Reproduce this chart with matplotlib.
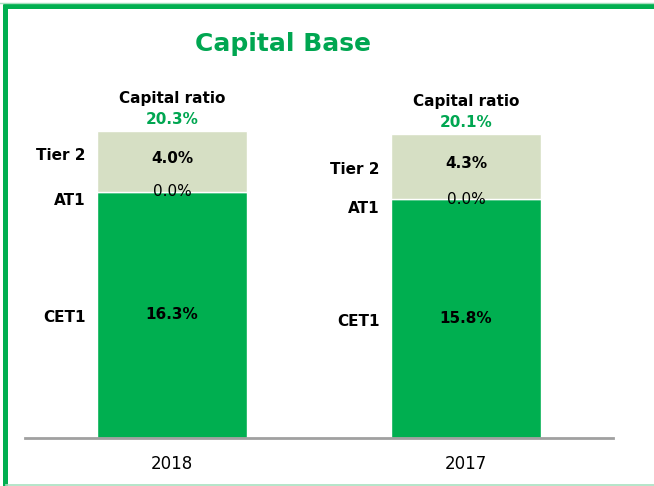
import matplotlib.pyplot as plt
from matplotlib.lines import Line2D

years = ["2018", "2017"]
cet1 = [16.3, 15.8]
at1 = [0.0, 0.0]
tier2 = [4.0, 4.3]
capital_ratio = ["20.3%", "20.1%"]

green = "#00AF50"
light = "#D6DFC4"
title_green = "#00A651"

W, H = 654, 486
fig = plt.figure(figsize=(W / 100, H / 100), dpi=100)

# frame lines around the slide
fig.add_artist(Line2D([3 / W, 1], [1 - 6.5 / H, 1 - 6.5 / H], color=green, lw=3.6, solid_capstyle="butt"))
fig.add_artist(Line2D([5.5 / W, 5.5 / W], [0, 1 - 4 / H], color=green, lw=3.6, solid_capstyle="butt"))
fig.add_artist(Line2D([0, 1], [1 - 3.5 / H, 1 - 3.5 / H], color="#A8E0C0", lw=1))
fig.add_artist(Line2D([6 / W, 1], [1.2 / H, 1.2 / H], color="#A8E0C0", lw=1.2))

# axes: x 25..613 px, baseline at y=438 px
ax_l, ax_r = 25, 613
ax_b, ax_t = 438, 108
ax = fig.add_axes([ax_l / W, (H - ax_b) / H, (ax_r - ax_l) / W, (ax_b - ax_t) / H])
ax.set_xlim(-0.5, 1.5)
ax.set_ylim(0, (ax_b - ax_t) / 15.1)

x = [0, 1]
width = 0.51
ax.bar(x, cet1, width, color=green, edgecolor="white", linewidth=1)
ax.bar(x, at1, width, bottom=cet1, color=green, edgecolor="white", linewidth=0)
bottom2 = [c + a for c, a in zip(cet1, at1)]
ax.bar(x, tier2, width, bottom=bottom2, color=light, edgecolor="white", linewidth=1)

tier2_label_shift = [0.2, -0.4]
for i in x:
    total = bottom2[i] + tier2[i]
    ax.text(i, cet1[i] * 0.5, f"{cet1[i]:.1f}%", ha="center", va="center",
            fontsize=11, fontweight="bold")
    ax.text(i, cet1[i], f"{at1[i]:.1f}%", ha="center", va="center", fontsize=11)
    ax.text(i, bottom2[i] + tier2[i] * 0.55, f"{tier2[i]:.1f}%", ha="center", va="center",
            fontsize=11, fontweight="bold")
    ax.text(i, total + 0.8, capital_ratio[i], ha="center", va="center",
            fontsize=11, fontweight="bold", color=title_green)
    ax.text(i, total + 2.2, "Capital ratio", ha="center", va="center",
            fontsize=11, fontweight="bold")
    lx = i - width / 2 - 0.04
    ax.text(lx, cet1[i] * 0.5 - 0.2, "CET1", ha="right", va="center",
            fontsize=11, fontweight="bold")
    ax.text(lx, cet1[i] - 0.6, "AT1", ha="right", va="center",
            fontsize=11, fontweight="bold")
    ax.text(lx, bottom2[i] + tier2[i] * 0.55 + tier2_label_shift[i], "Tier 2",
            ha="right", va="center", fontsize=11, fontweight="bold")

for s in ["top", "right", "left"]:
    ax.spines[s].set_visible(False)
ax.spines["bottom"].set_color("#A0A0A0")
ax.spines["bottom"].set_linewidth(2)
ax.set_yticks([])
ax.set_xticks(x)
ax.set_xticklabels(years, fontsize=12)
ax.tick_params(axis="x", length=0, pad=12)

fig.text(283 / W, 1 - 44 / H, "Capital Base", ha="center", va="center",
         fontsize=18, fontweight="bold", color=title_green)

fig.savefig("out.png", dpi=100)
